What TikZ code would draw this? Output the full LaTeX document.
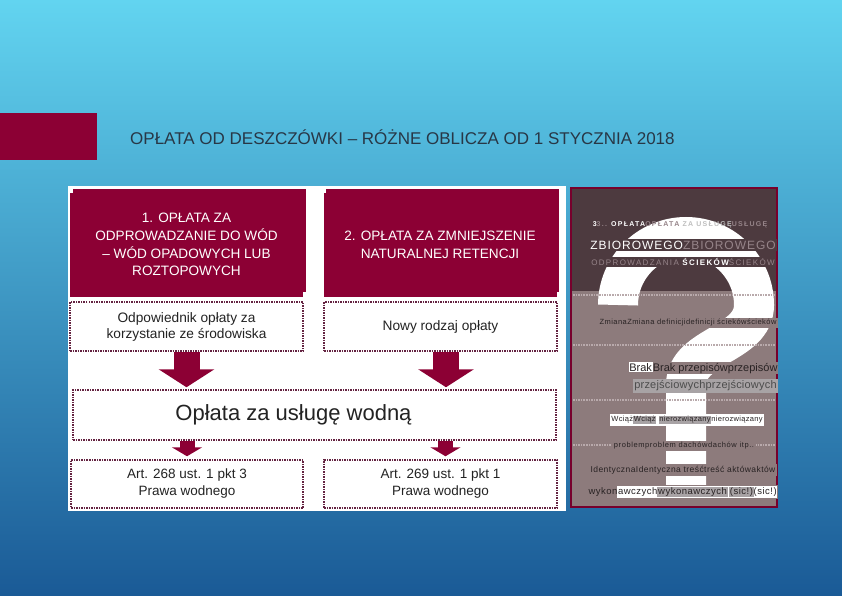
\documentclass[tikz,border=0pt]{standalone}
\usepackage{fontspec}
\setmainfont{Liberation Sans}
\usetikzlibrary{calc,arrows.meta}
\newcommand\fs[2]{\fontsize{#1}{#2}\selectfont}
\definecolor{wine}{RGB}{140,0,52}
\definecolor{bgtop}{RGB}{98,212,240}
\definecolor{bgmid}{RGB}{70,170,215}
\definecolor{bgbot}{RGB}{26,90,150}
\definecolor{titlec}{RGB}{40,55,70}
\definecolor{dotc}{RGB}{100,35,65}
\definecolor{txt}{RGB}{35,35,35}
\definecolor{pdark}{RGB}{77,58,63}
\definecolor{pmauve}{RGB}{141,123,124}
\definecolor{pline}{RGB}{185,170,172}
\definecolor{tgray}{RGB}{150,132,137}
\definecolor{hgray}{RGB}{168,163,165}
\definecolor{ptxt}{RGB}{40,34,35}
\setlength\fboxsep{0.8pt}
\begin{document}
\begin{tikzpicture}[x=1pt,y=-1pt,
  redcard/.style={fill=wine, text=white, align=center, font=\fs{13.6}{17.7}, inner sep=0pt, minimum width=233pt, minimum height=104pt},
  backcard/.style={fill=wine, draw=white, line width=1pt, inner sep=0pt, minimum width=234pt, minimum height=104pt},
  dotbox/.style={draw=dotc, densely dotted, line width=1.5pt, fill=white, align=center, text=txt, inner sep=0pt},
  bigarr/.style={wine, line width=26pt, -{Triangle[width=55pt,length=18pt]}},
  smallarr/.style={wine, line width=15pt, -{Triangle[width=30pt,length=9pt]}},
  sep/.style={pline, densely dotted, line width=1.6pt},
  ptext/.style={text=ptxt, inner sep=0pt},
  hlm/.style={fill=pmauve, inner sep=1.5pt},
  hld/.style={fill=pdark, inner sep=1.5pt}
]
\useasboundingbox (0,0) rectangle (842,596);
\shade[top color=bgtop, middle color=bgmid, bottom color=bgbot] (0,0) rectangle (842,596);
% title
\fill[wine] (0,113) rectangle (97,160);
\node[anchor=west, font=\fs{17}{20}, text=titlec, inner sep=0pt] (title) at (130,137) {OPŁATA OD DESZCZÓWKI – RÓŻNE OBLICZA OD 1 STYCZNIA 2018};
% white panel
\fill[white] (68,186) rectangle (566,511);
% red cards
\node[backcard] (bk1) at (189,240.5) {};
\node[redcard] (b1) at (186.5,244.5) {1. OPŁATA ZA\\ODPROWADZANIE DO WÓD\\– WÓD OPADOWYCH LUB\\ROZTOPOWYCH};
\node[backcard] (bk2) at (442.5,240.5) {};
\node[redcard] (b2) at (440,244.5) {2. OPŁATA ZA ZMNIEJSZENIE\\NATURALNEJ RETENCJI};
% dotted boxes
\node[dotbox, minimum width=233pt, minimum height=49pt, font=\fs{13.7}{16}] (d1) at (186.5,326.5) {Odpowiednik opłaty za\\korzystanie ze środowiska};
\node[dotbox, minimum width=233pt, minimum height=49pt, font=\fs{13.7}{16}] (d2) at (440.5,326.5) {Nowy rodzaj opłaty};
\node[dotbox, minimum width=483pt, minimum height=50pt, font=\fs{22}{24}] (big) at (314.5,415) {Opłata za usługę wodną\hspace*{42pt}};
\node[dotbox, minimum width=232pt, minimum height=48pt, font=\fs{13.5}{17}] (a1) at (187,484) {Art. 268 ust. 1 pkt 3\\Prawa wodnego};
\node[dotbox, minimum width=233pt, minimum height=48pt, font=\fs{13.5}{17}] (a2) at (440.5,484) {Art. 269 ust. 1 pkt 1\\Prawa wodnego};
% arrows
\draw[bigarr, shorten >=2pt] (d1.south) -- (d1.south |- big.north);
\draw[bigarr, shorten >=2pt] ([xshift=5.5pt]d2.south) -- ([xshift=5.5pt]d2.south |- big.north);
\draw[smallarr, shorten >=3pt] (a1.north |- big.south) -- (a1.north);
\draw[smallarr, shorten >=3pt] ([xshift=5pt]a2.north |- big.south) -- ([xshift=5pt]a2.north);
% right panel
\fill[pdark] (571,188) rectangle (777,291);
\fill[pmauve] (571,291) rectangle (777,507);
\draw[white, line width=40pt] (618,305) .. controls (618,267.5) and (648.5,237) .. (686,237)
  .. controls (723.5,237) and (754,267.5) .. (754,305)
  .. controls (754,345) and (686,345) .. (686,385) -- (686,492);
\foreach \yy in {295,345,400,445} \draw[sep] (573,\yy) -- (775,\yy);
\draw[wine!85!black, line width=1.5pt] (571,188) rectangle (777,507);
% right panel texts
\node[inner sep=0pt, font=\fs{7}{8}\bfseries] (r1) at (680,225) {\addfontfeatures{LetterSpace=18}\color{white}3\color{tgray}3.. \color{white}OPŁATA\color{tgray}OPŁATA \color{black!25}ZA USŁUGĘ\color{tgray}USŁUGĘ};
\node[hld, font=\fs{12}{13}] (r2) at (683,245) {\addfontfeatures{LetterSpace=8}\color{white}ZBIOROWEGO\color{tgray}ZBIOROWEGO};
\node[hld, font=\fs{8}{9}] (r3) at (683,262) {\addfontfeatures{LetterSpace=17}\color{tgray}ODPROWADZANIA \color{white}\bfseries ŚCIEKÓW\mdseries\color{tgray}ŚCIEKÓW};
\node[ptext, hlm, font=\fs{7.5}{8}] (r4) at (688,323) {\addfontfeatures{LetterSpace=6}ZmianaZmiana definicjidefinicji ściekówścieków};
\node[ptext, hlm, inner sep=0.5pt, font=\fs{11}{12}] (r5) at (703,368) {\colorbox{white}{Brak}Brak przepisówprzepisów};
\node[ptext, fill=hgray, inner sep=1.5pt, font=\fs{11}{12}, text=black!70] (r6) at (705.5,386) {\addfontfeatures{LetterSpace=2}przejściowychprzejściowych};
\node[ptext, fill=white, inner sep=1.5pt, font=\fs{7.5}{8}] (r7) at (687,420) {\addfontfeatures{LetterSpace=4}Wciąż\colorbox{hgray}{Wciąż} \colorbox{hgray}{nierozwiązany}nierozwiązany};
\node[ptext, hlm, font=\fs{7.5}{8}] (r8) at (684,446) {\addfontfeatures{LetterSpace=8}problemproblem dachówdachów itp..};
\node[ptext, hlm, font=\fs{8.5}{9}] (r9) at (683,470) {\addfontfeatures{LetterSpace=5}IdentycznaIdentyczna treśćtreść aktówaktów};
\node[ptext, hlm, inner sep=0.5pt, font=\fs{9.5}{10}] (r10) at (683,492) {\addfontfeatures{LetterSpace=5}wykon\colorbox{white}{awczych\colorbox{hgray}{wykonawczych}\,\colorbox{hgray}{(sic!)}(sic!)}};
\end{tikzpicture}
\end{document}
